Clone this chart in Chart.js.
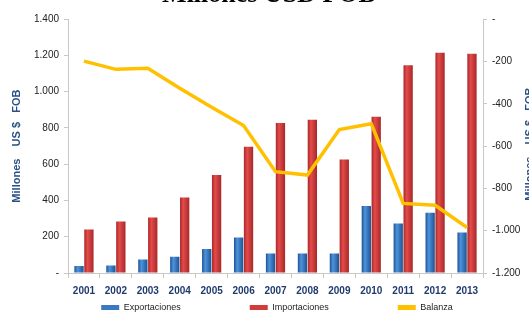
<!DOCTYPE html>
<html><head><meta charset="utf-8">
<script src="https://cdn.jsdelivr.net/npm/chart.js@4"></script>
<style>
html,body{margin:0;padding:0;overflow:hidden;background:#fff;width:529px;height:314px;}
#wrap{position:absolute;left:0;top:-24px;width:538px;height:338px;}
</style></head><body>
<div id="wrap"><canvas id="c"></canvas></div>
<script>
const years = ['2001','2002','2003','2004','2005','2006','2007','2008','2009','2010','2011','2012','2013'];
const exportaciones = [38, 42, 75, 90, 132, 196, 108, 108, 108, 370, 273, 333, 223];
const importaciones = [240, 284, 306, 416, 540, 697, 827, 846, 626, 862, 1146, 1215, 1210];
const balanza = [-198, -237, -232, -326, -416, -503, -721, -737, -522, -494, -871, -880, -985];
const leftTicks = [0, 200, 400, 600, 800, 1000, 1200, 1400];
const rightTicks = [0, -200, -400, -600, -800, -1000, -1200];
const axisTitle = 'Millones    US $   FOB';

function fmt(v){
  if (v === 0) return '-';
  const s = Math.abs(v).toString().replace(/\B(?=(\d{3})+(?!\d))/g, '.');
  return (v < 0 ? '-' : '') + s;
}
const axisColor = '#c8c8c8';
const titleBlue = '#2a4f86';
const CAT_PCT = 0.62, BAR_PCT = 0.94;

function barGradient(side, dark, light){
  return (c) => {
    const chart = c.chart, sx = chart.scales && chart.scales.x;
    if (!sx || !chart.chartArea || c.dataIndex === undefined) return light;
    const cw = sx.width / years.length;
    const cx = sx.getPixelForValue(c.dataIndex) + side * cw * CAT_PCT / 4;
    const bw = cw * CAT_PCT / 2 * BAR_PCT;
    if (!isFinite(cx) || !isFinite(bw)) return light;
    const g = chart.ctx.createLinearGradient(cx - bw/2, 0, cx + bw/2, 0);
    g.addColorStop(0, dark);
    g.addColorStop(0.35, light);
    g.addColorStop(1, dark);
    return g;
  };
}

const legendFix = {
  id:'legendFix',
  afterInit(chart){
    const lg = chart.legend;
    const orig = lg.fit.bind(lg);
    lg.fit = function(){ orig(); this.height = 17; };
  },
  afterLayout(chart){
    const lg = chart.legend;
    const pad = lg.options.labels.padding;
    lg.top = lg.top - pad + 6;
    lg.left += 8; lg.right += 8;
  }
};

const rightTitle = {
  id:'rightTitle',
  afterDraw(chart){
    const ctx = chart.ctx, a = chart.chartArea;
    ctx.save();
    ctx.translate(530, (a.top + a.bottom) / 2 - 2);
    ctx.rotate(-Math.PI/2);
    ctx.fillStyle = titleBlue;
    ctx.font = 'bold 11px "Liberation Sans"';
    ctx.textAlign = 'center';
    ctx.textBaseline = 'middle';
    ctx.fillText(axisTitle, 0, 0);
    ctx.restore();
  }
};

new Chart(document.getElementById('c'), {
  data: {
    labels: years,
    datasets: [
      {type:'line', label:'Balanza', data: balanza, yAxisID:'y2', borderColor:'#FFC000', backgroundColor:'#FFC000',
       borderWidth:3.5, pointRadius:0, tension:0, order:0},
      {type:'bar', label:'Exportaciones', data: exportaciones, yAxisID:'y',
       backgroundColor: barGradient(-1, '#1d5394', '#4d93dc'), borderWidth:0,
       categoryPercentage:CAT_PCT, barPercentage:BAR_PCT, order:1},
      {type:'bar', label:'Importaciones', data: importaciones, yAxisID:'y',
       backgroundColor: barGradient(1, '#a82828', '#e44b4b'), borderWidth:0,
       categoryPercentage:CAT_PCT, barPercentage:BAR_PCT, order:1}
    ]
  },
  options: {
    responsive:true, maintainAspectRatio:false, animation:false,
    layout:{padding:{top:0,bottom:0,left:0,right:0}},
    plugins:{
      title:{display:true, text:'Millones USD FOB', color:'#000', font:{family:'Liberation Serif', size:26, weight:'bold'}, padding:{top:4,bottom:8}},
      legend:{position:'bottom',
        labels:{boxWidth:18, boxHeight:5, padding:69, color:'#222', font:{family:'Liberation Sans', size:9},
          generateLabels:(chart)=>{
            const base = Chart.defaults.plugins.legend.labels.generateLabels(chart);
            const solid = {'Exportaciones':'#3a78c2','Importaciones':'#d33a3a','Balanza':'#FFC000'};
            base.forEach(it=>{ it.fillStyle = solid[it.text]; it.strokeStyle = solid[it.text]; it.lineWidth = 0; });
            const o={'Exportaciones':0,'Importaciones':1,'Balanza':2};
            return base.sort((a,b)=>o[a.text]-o[b.text]);
          }}},
      tooltip:{enabled:false}
    },
    scales:{
      x:{ position:'bottom',
        afterFit:(s)=>{s.height = 24;},
        grid:{display:true, drawOnChartArea:false, drawTicks:true, tickLength:5, color:axisColor, offset:true},
        border:{display:true, color:axisColor},
        ticks:{color:'#1f3b6e', font:{family:'Liberation Sans', size:10, weight:'bold'}, padding:7, maxRotation:0, autoSkip:false}
      },
      y:{ position:'left', min:0, max:1400,
        afterBuildTicks:(s)=>{s.ticks = leftTicks.map(v=>({value:v}));},
        afterFit:(s)=>{s.width = 68;},
        grid:{display:true, drawOnChartArea:false, drawTicks:true, tickLength:4, color:axisColor},
        border:{display:true, color:axisColor},
        ticks:{callback:(v)=>fmt(v), color:'#222', font:{family:'Liberation Sans', size:10}, padding:5},
        title:{display:true, text:axisTitle, color:titleBlue, font:{family:'Liberation Sans', size:11, weight:'bold'}, padding:{top:10,bottom:0}}
      },
      y2:{ position:'right', min:-1200, max:0,
        afterBuildTicks:(s)=>{s.ticks = rightTicks.map(v=>({value:v}));},
        afterFit:(s)=>{s.width = 55;},
        grid:{display:true, drawOnChartArea:false, drawTicks:true, tickLength:4, color:axisColor},
        border:{display:true, color:axisColor},
        ticks:{callback:(v)=>fmt(v), color:'#222', font:{family:'Liberation Sans', size:10}, padding:5}
      }
    }
  },
  plugins:[legendFix, rightTitle]
});
</script>
</body></html>
